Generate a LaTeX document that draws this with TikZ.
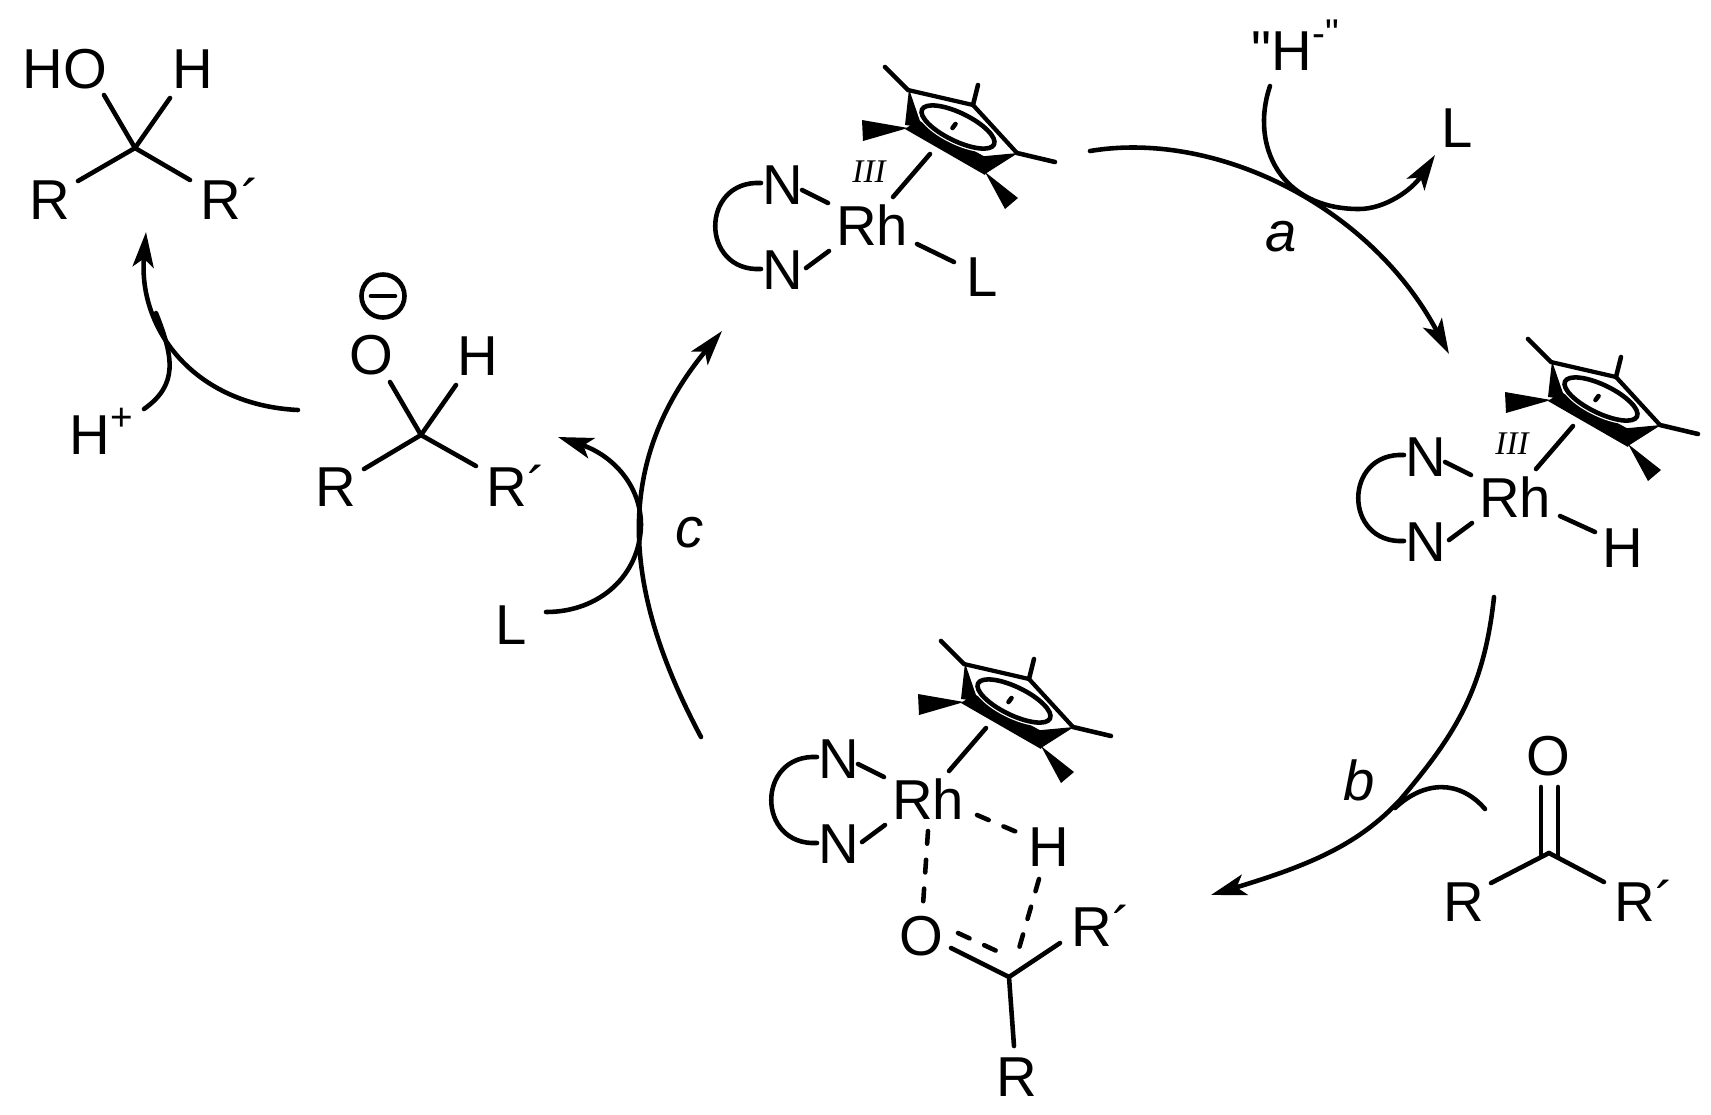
\documentclass[tikz,border=0pt]{standalone}
\usepackage{fontspec}
\setmainfont{Liberation Sans}
\newfontfamily\oxfont{Liberation Serif}
\newfontfamily\plainfont{Liberation Sans}
\usetikzlibrary{calc,positioning,arrows.meta}
\newcommand{\upmark}[1]{\raisebox{6.8pt}{\fontsize{11}{11}\selectfont #1}}
\tikzset{
    atom/.style={font=\fontsize{16}{19}\selectfont,inner sep=0pt,anchor=base},
    steplabel/.style={atom,font=\fontsize{16}{19}\selectfont\itshape},
    oxstate/.style={font=\oxfont\fontsize{9.4}{11}\selectfont\itshape,inner sep=0pt,anchor=base},
    bond/.style={line width=1.3pt,line cap=round},
    dashbond/.style={bond,dash pattern=on 3.6pt off 4.6pt},
    react/.style={bond,-{Stealth[length=10pt,width=6pt,inset=2.4pt]}},
    rhcore/.pic={
        \node[atom] at (0,0) (-rh) {Rh};
        \node[atom] at (-89,-41) (-na) {N};
        \node[atom] at (-89,44) (-nb) {N};
        \draw[bond] ($(-na.base)+(19,-14)$) -- ($(-rh.base)+(-44,-42)$);
        \draw[bond] ($(-nb.base)+(23,-21)$) -- ($(-rh.base)+(-43,6)$);
        \draw[bond] ($(-na.base)+(-22,-21)$) .. controls ($(-na.base)+(-83,-24)$) and ($(-nb.base)+(-83,-17)$) .. ($(-nb.base)+(-22,-20)$);
        \draw[bond] ($(-rh.base)+(21,-48)$) -- ($(-rh.base)+(58,-91)$);
        % the ring
        \draw[line width=1.2pt,line join=round] (36,-155) -- (101,-140) -- (145,-92);
        \draw[bond] (36,-155) -- (13,-178);
        \draw[bond] (101,-140) -- (106,-160);
        \draw[bond] (145,-92) -- (183,-83);
        \fill (36,-117) -- (-10,-125) -- (-9,-104) -- cycle;
        \fill (113,-73) -- (146,-47) -- (133,-36) -- cycle;
        \fill (37,-156) -- (33,-120) -- (50,-118) -- cycle;
        \fill (33,-116) -- (113,-70) -- (117,-86) -- (46,-125) -- cycle;
        \fill (146,-92) -- (113,-71) -- (103,-88) -- cycle;
        \draw[white,fill=white,line width=2pt] (86,-118) ellipse [x radius=.40cm,y radius=.14cm,rotate=-26];
        \draw[line width=1.3pt] (86,-118) ellipse [x radius=.40cm,y radius=.14cm,rotate=-26];
        \draw[bond] (80.5,-117) -- (83.5,-121);
    }
}
\begin{document}
\begin{tikzpicture}[x=0.01cm,y=-0.01cm]
                \useasboundingbox (0,0) rectangle (1711,1114);

                % product
                \coordinate (ca) at (135,148);
                \node[atom] at (85,88) (oa) {\llap{H}O};
                \node[atom] at (193,88) (ha) {H};
                \node[atom] at (50,219) (ra) {R};
                \node[atom] at (221,219) (rpa) {R\rlap{´}};
                \draw[bond] (ca) -- ($(oa.base)+(19,7)$);
                \draw[bond] (ca) -- ($(ha.base)+(-23,10)$);
                \draw[bond] (ca) -- ($(ra.base)+(28,-38)$);
                \draw[bond] (ca) -- ($(rpa.base)+(-31,-39)$);

                % alkoxide
                \coordinate (cb) at (421,435);
                \node[atom] at (371,374) (ob) {O};
                \node[atom] at (478,375) (hb) {H};
                \node[atom] at (336,506) (rb) {R};
                \node[atom] at (507,506) (rpb) {R\rlap{´}};
                \node[draw,circle,line width=1.3pt,minimum size=.43cm,inner sep=0pt] at (383,296) (minus) {};
                \draw[bond] ($(minus)+(-12,0)$) -- ($(minus)+(12,0)$);
                \draw[bond] (cb) -- ($(ob.base)+(19,8)$);
                \draw[bond] (cb) -- ($(hb.base)+(-22,10)$);
                \draw[bond] (cb) -- ($(rb.base)+(28,-37)$);
                \draw[bond] (cb) -- ($(rpb.base)+(-31,-40)$);

                % protonation
                \node[atom] at (90,454) (hplus) {H\rlap{\upmark{+}}};
                \coordinate (alkout) at (298,410);
                \coordinate (prodin) at (146,232);
                \coordinate (hpout) at (144,409);
                \coordinate (hpin) at (156,313);
                \draw[react] (alkout) .. controls (195,405) and (138,330) .. (prodin);
                \draw[bond] (hpout) .. controls (178,385) and (174,358) .. (hpin);

                % the three rhodium complexes
                \pic (top) at (872,245) {rhcore};
                \pic (right) at (1515,517) {rhcore};
                \pic (bot) at (928,819) {rhcore};
                \node[oxstate] at (869,182) (oxa) {III};
                \node[oxstate] at (1512,454) (oxb) {III};
                \node[atom] at (982,296) (la) {L};
                \node[atom] at (1623,567) (hc) {H};
                \draw[bond] ($(top-rh.base)+(45,-1)$) -- ($(la.base)+(-28,-34)$);
                \draw[bond] ($(right-rh.base)+(45,-1)$) -- ($(hc.base)+(-28,-35)$);

                % substrate bound at the bottom complex
                \coordinate (cd) at (1009,977);
                \node[atom] at (921,955) (od) {O};
                \node[atom] at (1049,866) (hd) {H};
                \node[atom] at (1092,946) (rpd) {R\rlap{´}};
                \node[atom] at (1017,1096) (rd) {R};
                \draw[dashbond] ($(bot-rh.base)+(49,-4)$) -- ($(hd.base)+(-30,-33)$);
                \draw[dashbond] ($(bot-rh.base)+(0,12)$) -- ($(od.base)+(2,-50)$);
                \draw[dashbond] ($(hd.base)+(-10,13)$) -- ($(cd)+(9,-25)$);
                \draw[dashbond] ($(od.base)+(37,-22)$) -- ($(cd)+(-8,-24)$);
                \draw[bond] ($(od.base)+(30,-7)$) -- (cd);
                \draw[bond] (cd) -- ($(rpd.base)+(-32,-3)$);
                \draw[bond] (cd) -- ($(rd.base)+(-3,-50)$);

                % ketone
                \coordinate (ce) at (1549,853);
                \node[atom] at (1548,775) (oe) {O};
                \node[atom] at (1464,921) (re) {R};
                \node[atom] at (1635,921) (rpe) {R\rlap{´}};
                \draw[bond] ($(oe.base)+(-7,12)$) -- ($(ce)+(-8,2)$);
                \draw[bond] ($(oe.base)+(10,12)$) -- ($(ce)+(9,2)$);
                \draw[bond] (ce) -- ($(re.base)+(27,-38)$);
                \draw[bond] (ce) -- ($(rpe.base)+(-31,-39)$);

                % step a
                \node[atom,font=\plainfont\fontsize{16}{19}\selectfont] at (1292,70) (hyd) {\llap{"}H\rlap{\upmark{-"}}};
                \node[atom] at (1457,147) (lb) {L};
                \node[steplabel] at (1281,251) (stepa) {a};
                \coordinate (aout) at (1090,151);
                \coordinate (ain) at (1449,354);
                \coordinate (hydout) at (1270,86);
                \coordinate (lbin) at (1435,155);
                \draw[react] (aout) .. controls (1215,130) and (1370,205) .. (ain);
                \draw[react] (hydout) .. controls (1250,145) and (1280,209) .. (1359,209) .. controls (1385,209) and (1412,190) .. (lbin);

                % step b
                \node[steplabel] at (1359,800) (stepb) {b};
                \coordinate (bout) at (1494,597);
                \coordinate (bin) at (1211,895);
                \coordinate (keout) at (1485,809);
                \coordinate (kein) at (1395,808);
                \draw[react] (bout) .. controls (1484,690) and (1455,735) .. (1400,800) .. controls (1358,845) and (1310,865) .. (bin);
                \draw[bond] (keout) .. controls (1460,780) and (1425,780) .. (kein);

                % step c
                \node[steplabel] at (690,547) (stepc) {c};
                \node[atom] at (511,644) (lc) {L};
                \coordinate (cout) at (701,737);
                \coordinate (cin) at (722,331);
                \coordinate (lcout) at (546,612);
                \coordinate (alkin) at (558,437);
                \draw[react] (cout) .. controls (628,600) and (607,470) .. (cin);
                \draw[react] (lcout) .. controls (600,612) and (640,575) .. (641,525) .. controls (641,485) and (612,455) .. (alkin);
            \end{tikzpicture}
\end{document}
